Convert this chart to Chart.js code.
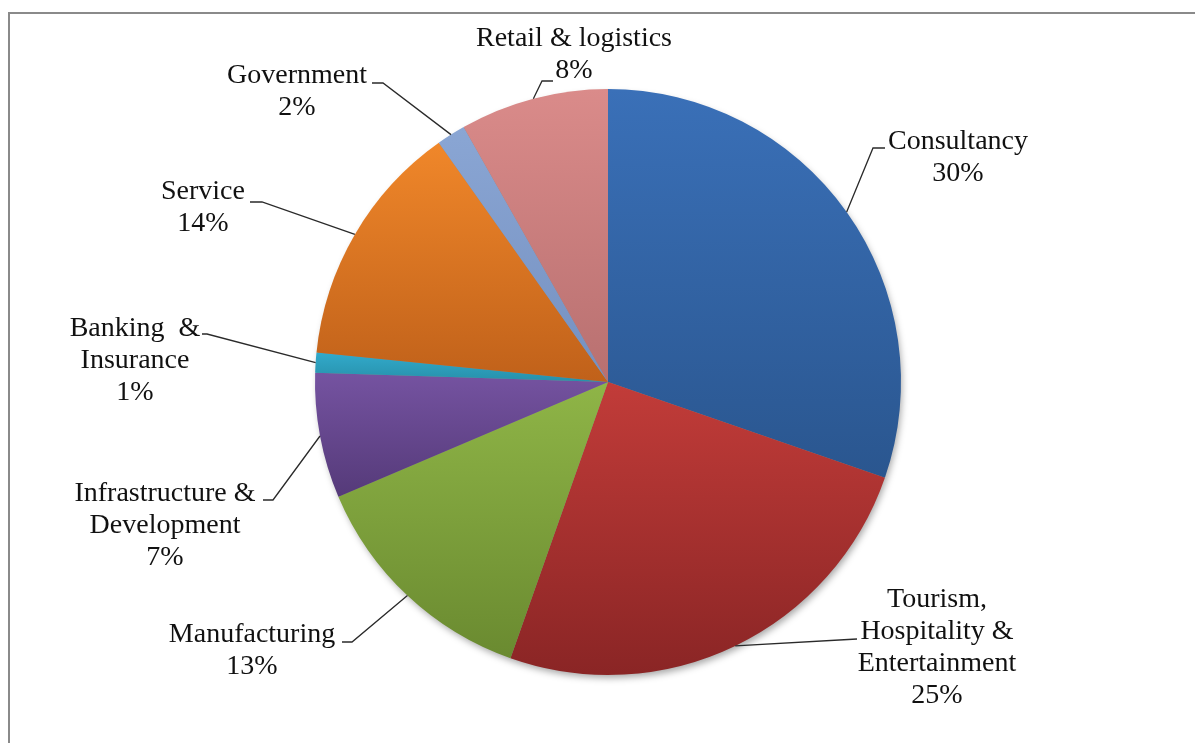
<!DOCTYPE html>
<html>
<head>
<meta charset="utf-8">
<script src="https://cdn.jsdelivr.net/npm/chart.js@4"></script>
<style>
  html, body { margin: 0; padding: 0; background: #fff; overflow: hidden; }
  #frame {
    position: absolute; left: 8px; top: 12px; width: 1300px; height: 800px;
    border: 2px solid #8a8a8a; box-sizing: border-box;
  }
  #wrap { position: absolute; left: 0; top: 0; width: 1195px; height: 743px; }
</style>
</head>
<body>
<div id="frame"></div>
<div id="wrap"><canvas id="pie"></canvas></div>
<script>
// Sectors, clockwise from 12 o'clock
const labels = [
  ["Consultancy"],
  ["Tourism,", "Hospitality &", "Entertainment"],
  ["Manufacturing"],
  ["Infrastructure &", "Development"],
  ["Banking  &", "Insurance"],
  ["Service"],
  ["Government"],
  ["Retail & logistics"],
];
const shares = [30.3, 25.1, 13.2, 6.9, 1.1, 13.6, 1.6, 8.2];

// gradient stops per slice: top colour, bottom colour
const topColors = ["#3a70b8", "#c23c39", "#8fb547", "#7553a1", "#32aacb", "#f0872a", "#8aa6d4", "#da8b8a"];
const bottomColors = ["#2a568f", "#8a2525", "#6a8a30", "#553a79", "#2790aa", "#c0611a", "#7590c0", "#b87070"];

// where each label block sits (first line centre, relative to pie centre)
// and where the leader line bends before it reaches the text
const labelPos = [
  { dx: 350, dy: -240, bend: [265, -234], end: [277, -234] },
  { dx: 329, dy: 218, bend: [249, 257], end: [249, 257] },
  { dx: -356, dy: 253, bend: [-256, 260], end: [-266, 260] },
  { dx: -443, dy: 112, bend: [-335, 118], end: [-345, 118] },
  { dx: -473, dy: -53, bend: [-401, -48], end: [-406, -48] },
  { dx: -405, dy: -190, bend: [-346, -180], end: [-358, -180] },
  { dx: -311, dy: -306, bend: [-225, -299], end: [-236, -299] },
  { dx: -34, dy: -343, bend: [-66, -301], end: [-55, -301] },
];

const FONT = "28px 'Liberation Serif', 'Times New Roman', serif";
const LINE_H = 32;

function sliceGradient(context) {
  const chart = context.chart;
  const area = chart.chartArea;
  const i = context.dataIndex;
  if (!area) return topColors[i];
  const cx = (area.left + area.right) / 2;
  const cy = (area.top + area.bottom) / 2;
  const r = Math.min(area.right - area.left, area.bottom - area.top) / 2;
  const total = shares.reduce((a, b) => a + b, 0);
  let start = 0;
  for (let k = 0; k < i; k++) start += shares[k];
  const a0 = (start / total) * Math.PI * 2 - Math.PI / 2;
  const a1 = ((start + shares[i]) / total) * Math.PI * 2 - Math.PI / 2;
  let minY = cy, maxY = cy;
  for (let s = 0; s <= 40; s++) {
    const a = a0 + (a1 - a0) * s / 40;
    const y = cy + r * Math.sin(a);
    minY = Math.min(minY, y);
    maxY = Math.max(maxY, y);
  }
  const g = chart.ctx.createLinearGradient(0, minY, 0, maxY);
  g.addColorStop(0, topColors[i]);
  g.addColorStop(1, bottomColors[i]);
  return g;
}

const shadowPlugin = {
  id: "pieShadow",
  beforeDatasetsDraw(chart) {
    const arc = chart.getDatasetMeta(0).data[0];
    if (!arc) return;
    const ctx = chart.ctx;
    ctx.save();
    ctx.shadowColor = "rgba(0,0,0,0.35)";
    ctx.shadowBlur = 7;
    ctx.shadowOffsetX = 2;
    ctx.shadowOffsetY = 4;
    ctx.fillStyle = "#888";
    ctx.beginPath();
    ctx.arc(arc.x, arc.y, arc.outerRadius - 1, 0, Math.PI * 2);
    ctx.fill();
    ctx.restore();
  },
};

const labelPlugin = {
  id: "leaderLabels",
  afterDatasetsDraw(chart) {
    const ctx = chart.ctx;
    const total = shares.reduce((a, b) => a + b, 0);
    chart.getDatasetMeta(0).data.forEach((arc, i) => {
      const p = labelPos[i];
      const mid = (arc.startAngle + arc.endAngle) / 2;
      const sx = arc.x + Math.cos(mid) * arc.outerRadius;
      const sy = arc.y + Math.sin(mid) * arc.outerRadius;

      ctx.save();
      ctx.strokeStyle = "#2a2a2a";
      ctx.lineWidth = 1.3;
      ctx.beginPath();
      ctx.moveTo(sx, sy);
      ctx.lineTo(arc.x + p.bend[0], arc.y + p.bend[1]);
      ctx.lineTo(arc.x + p.end[0], arc.y + p.end[1]);
      ctx.stroke();

      const lines = labels[i].concat([Math.round(shares[i] / total * 100) + "%"]);
      ctx.font = FONT;
      ctx.fillStyle = "#111";
      ctx.textAlign = "center";
      ctx.textBaseline = "middle";
      const x = arc.x + p.dx;
      const y0 = arc.y + p.dy;
      lines.forEach((t, k) => ctx.fillText(t, x, y0 + k * LINE_H));
      ctx.restore();
    });
  },
};

new Chart(document.getElementById("pie"), {
  type: "pie",
  data: {
    labels: labels.map((l) => l.join(" ")),
    datasets: [{
      data: shares,
      backgroundColor: sliceGradient,
      borderWidth: 0,
    }],
  },
  options: {
    responsive: true,
    maintainAspectRatio: false,
    animation: false,
    layout: { padding: { top: 89, bottom: 68, left: 315, right: 294 } },
    plugins: {
      legend: { display: false },
      tooltip: { enabled: false },
    },
  },
  plugins: [shadowPlugin, labelPlugin],
});
</script>
</body>
</html>
